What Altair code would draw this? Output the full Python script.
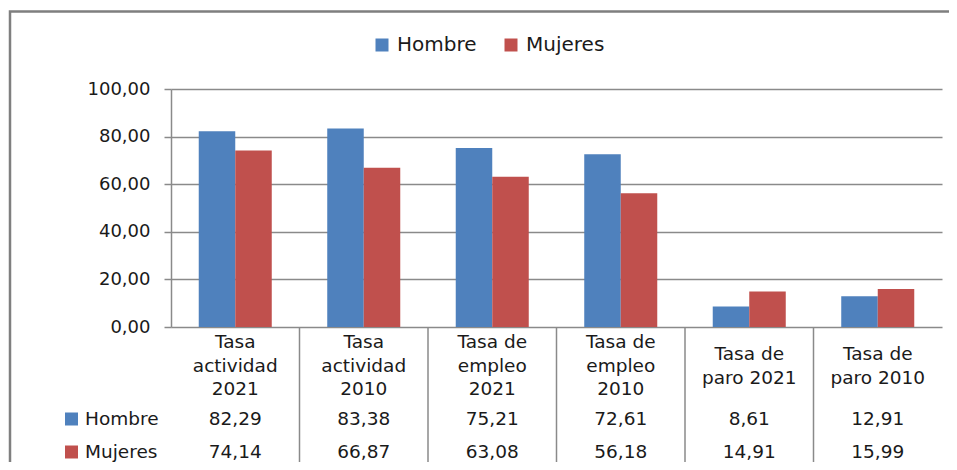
import altair as alt
import pandas as pd

categories = ["Tasa actividad 2021", "Tasa actividad 2010", "Tasa de empleo 2021",
              "Tasa de empleo 2010", "Tasa de paro 2021", "Tasa de paro 2010"]
category_lines = ["Tasa\nactividad\n2021", "Tasa\nactividad\n2010", "Tasa de\nempleo\n2021",
                  "Tasa de\nempleo\n2010", "Tasa de\nparo 2021", "Tasa de\nparo 2010"]
series = ["Hombre", "Mujeres"]
hombre = [82.29, 83.38, 75.21, 72.61, 8.61, 12.91]
mujeres = [74.14, 66.87, 63.08, 56.18, 14.91, 15.99]
colors = ["#4F81BD", "#C0504D"]
y_ticks = [0, 20, 40, 60, 80, 100]

FONT = "DejaVu Sans"
TXT = "#1a1a1a"
GREY = "#8a8a8a"
W, H = 771, 238

rows = []
for name, vals in zip(series, [hombre, mujeres]):
    for c, v in zip(categories, vals):
        rows.append({"category": c, "series": name, "value": v})
df = pd.DataFrame(rows)
cat_df = pd.DataFrame({"category": categories, "lines": category_lines})
sep_df = pd.DataFrame({"category": categories[1:]})
ser_df = pd.DataFrame({"series": series})
one = pd.DataFrame({"a": [0]})

x_enc = alt.X("category:N", sort=categories,
              scale=alt.Scale(domain=categories, paddingInner=0, paddingOuter=0), axis=None)
color_enc = alt.Color("series:N", scale=alt.Scale(domain=series, range=colors),
                      legend=alt.Legend(orient="none", legendX=201, legendY=-54,
                                        direction="horizontal", title=None,
                                        symbolType="square", symbolSize=169,
                                        symbolStrokeWidth=0, symbolOpacity=1,
                                        labelFont=FONT, labelFontSize=20, labelColor=TXT,
                                        labelOffset=5, columnPadding=24, padding=0))
row_y = alt.Y("series:N", scale=alt.Scale(type="point", domain=series, range=[330, 363], padding=0),
              axis=None)

bars = alt.Chart(df).mark_bar().encode(
    x=x_enc,
    xOffset=alt.XOffset("series:N", scale=alt.Scale(domain=series, paddingInner=0, paddingOuter=0.76)),
    y=alt.Y("value:Q", scale=alt.Scale(domain=[0, 100], nice=False),
            axis=alt.Axis(values=y_ticks, title=None,
                          labelExpr="replace(format(datum.value, '.2f'), '.', ',')",
                          labelFont=FONT, labelFontSize=18, labelColor=TXT, labelPadding=14,
                          domain=True, domainColor=GREY, domainWidth=1.5,
                          ticks=True, tickColor=GREY, tickSize=7, tickWidth=1.5,
                          grid=True, gridColor=GREY, gridWidth=1.5)),
    color=color_enc,
)

# first line of each label placed so the block is centred at one height
cat_labels = alt.Chart(cat_df).transform_calculate(
    n="length(split(datum.lines, '\\n'))"
).mark_text(
    lineBreak="\n", baseline="middle", align="center", font=FONT, fontSize=18.5,
    lineHeight=23.5, color=TXT
).encode(
    x=x_enc,
    y=alt.Y("n:Q", scale=alt.Scale(domain=[2, 3], range=[265, 253]), axis=None),
    text="lines:N")

values_text = alt.Chart(df).transform_calculate(
    label="replace(format(datum.value, '.2f'), '.', ',')"
).mark_text(baseline="middle", align="center", font=FONT, fontSize=18.5, color=TXT).encode(
    x=x_enc, y=row_y, text="label:N")

keys = alt.Chart(ser_df).mark_square(size=169, opacity=1, strokeWidth=0).encode(
    x=alt.value(-99.5), y=row_y,
    color=alt.Color("series:N", scale=alt.Scale(domain=series, range=colors), legend=None))

row_labels = alt.Chart(ser_df).mark_text(baseline="middle", align="left", font=FONT,
                                         fontSize=18.5, color=TXT).encode(
    x=alt.value(-86), y=row_y, text="series:N")

seps = alt.Chart(sep_df).mark_rule(color=GREY, strokeWidth=1.5).encode(
    x=alt.X("category:N", sort=categories, bandPosition=0,
            scale=alt.Scale(domain=categories, paddingInner=0, paddingOuter=0), axis=None),
    y=alt.value(H), y2=alt.value(H + 160))

frame = alt.Chart(one).mark_rect(fillOpacity=0, stroke="#7f7f7f", strokeWidth=2.5).encode(
    x=alt.value(-161), x2=alt.value(W + 60), y=alt.value(-77.5), y2=alt.value(H + 200))

chart = alt.layer(frame, bars, seps, cat_labels, values_text, keys, row_labels).resolve_scale(
    y="independent"
).properties(
    width=W, height=H,
    autosize=alt.AutoSizeParams(type="none"),
    padding={"left": 163, "top": 81, "right": 7, "bottom": 135},
    background="white",
).configure_view(strokeWidth=0)

chart.save("out.html", embed_options={"renderer": "svg", "actions": False})
